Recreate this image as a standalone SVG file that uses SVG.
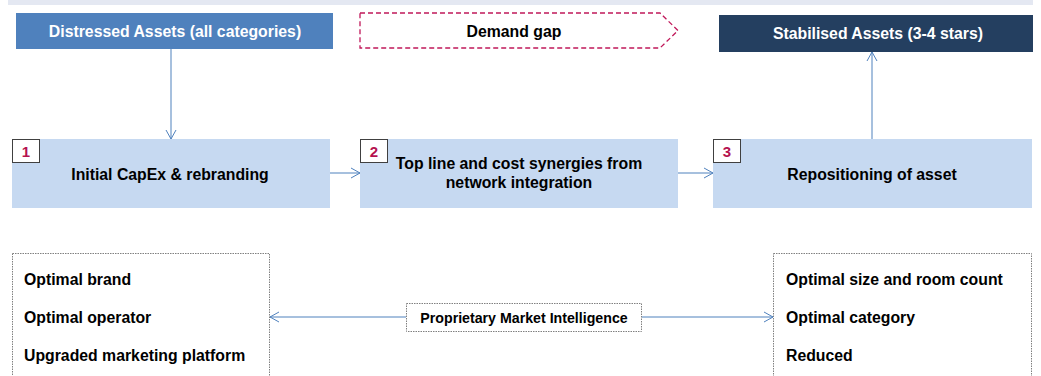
<svg xmlns="http://www.w3.org/2000/svg" width="1041" height="376" viewBox="0 0 1041 376">
<style>
text{font-family:"Liberation Sans",Arial,sans-serif;font-weight:bold;}
.t{font-size:15.8px;fill:#000;}
.w{font-size:15.8px;fill:#fff;}
.num{font-size:15px;fill:#B5124F;}
.step{fill:#C6D9F1;}
.nbox{fill:#fff;stroke:#404040;stroke-width:1;}
.dot{fill:#fff;stroke:#808080;stroke-width:1;stroke-dasharray:1.5 1;}
.conn{stroke:#4F81BD;stroke-width:1;fill:none;}
</style>
<defs>
<marker id="ah" markerWidth="12" markerHeight="12" refX="10" refY="6" orient="auto" markerUnits="userSpaceOnUse">
<path d="M1,1 L10,6 L1,11" fill="none" stroke="#4F81BD" stroke-width="1"/>
</marker>
</defs>
<rect x="8" y="0" width="1025" height="5" fill="#E4E8F2"/>
<g id="distressed">
<rect x="16" y="13" width="317" height="36" fill="#4F81BD"/>
<text class="w" x="175" y="37" text-anchor="middle">Distressed Assets (all categories)</text>
</g>
<g id="demand-gap">
<path d="M360,13 L660,13 L678,30.5 L660,48 L360,48 Z" fill="#fff" stroke="#C0185A" stroke-width="1.3" stroke-dasharray="5 3"/>
<text class="t" x="514" y="37" text-anchor="middle">Demand gap</text>
</g>
<g id="stabilised">
<rect x="719" y="15" width="314" height="37" fill="#243F60"/>
<text class="w" x="878" y="39" text-anchor="middle">Stabilised Assets (3-4 stars)</text>
</g>
<g id="step1">
<rect class="step" x="12" y="139" width="318" height="69"/>
<rect class="nbox" x="12.5" y="139.5" width="27" height="23"/>
<text class="num" x="26" y="157" text-anchor="middle">1</text>
<text class="t" x="170" y="180" text-anchor="middle">Initial CapEx &amp; rebranding</text>
</g>
<g id="step2">
<rect class="step" x="360" y="139" width="318" height="69"/>
<rect class="nbox" x="360.5" y="139.5" width="27" height="23"/>
<text class="num" x="374" y="157" text-anchor="middle">2</text>
<text class="t" x="519" y="169" text-anchor="middle">Top line and cost synergies from</text>
<text class="t" x="519" y="188" text-anchor="middle">network integration</text>
</g>
<g id="step3">
<rect class="step" x="713" y="139" width="319" height="69"/>
<rect class="nbox" x="713.5" y="139.5" width="27" height="23"/>
<text class="num" x="727" y="157" text-anchor="middle">3</text>
<text class="t" x="872" y="180" text-anchor="middle">Repositioning of asset</text>
</g>
<g id="left-box">
<rect class="dot" x="12.5" y="253.5" width="257" height="130"/>
<text class="t" x="24" y="285">Optimal brand</text>
<text class="t" x="24" y="323">Optimal operator</text>
<text class="t" x="24" y="361">Upgraded marketing platform</text>
</g>
<g id="intelligence">
<rect class="dot" x="406.5" y="303.5" width="235" height="28"/>
<text x="524" y="323" text-anchor="middle" style="font-size:14.2px;fill:#000">Proprietary Market Intelligence</text>
</g>
<g id="right-box">
<rect class="dot" x="773.5" y="253.5" width="258" height="130"/>
<text class="t" x="786" y="285">Optimal size and room count</text>
<text class="t" x="786" y="323">Optimal category</text>
<text class="t" x="786" y="361">Reduced</text>
</g>
<g id="connectors">
<line class="conn" x1="171" y1="49" x2="171" y2="139" marker-end="url(#ah)"/>
<line class="conn" x1="330" y1="173" x2="360" y2="173" marker-end="url(#ah)"/>
<line class="conn" x1="678" y1="173" x2="713" y2="173" marker-end="url(#ah)"/>
<line class="conn" x1="872" y1="139" x2="872" y2="52" marker-end="url(#ah)"/>
<line class="conn" x1="406" y1="317" x2="270" y2="317" marker-end="url(#ah)"/>
<line class="conn" x1="642" y1="317" x2="773" y2="317" marker-end="url(#ah)"/>
</g>
</svg>
